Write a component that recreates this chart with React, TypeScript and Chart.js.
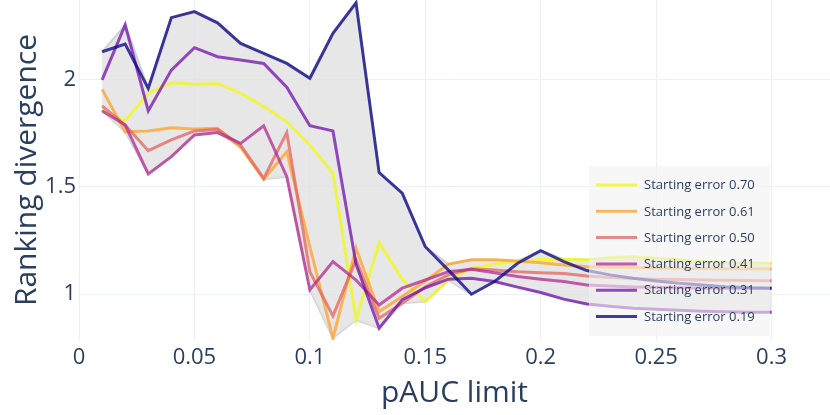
import React, { useEffect, useRef } from "react";
import { Chart, registerables } from "chart.js";

Chart.register(...registerables);

const xValues = [0.01, 0.02, 0.03, 0.04, 0.05, 0.06, 0.07, 0.08, 0.09, 0.1, 0.11, 0.12, 0.13, 0.14, 0.15, 0.16, 0.17, 0.18, 0.19, 0.2, 0.21, 0.22, 0.23, 0.24, 0.25, 0.26, 0.27, 0.28, 0.29, 0.3];

const err070 = [1.854, 1.807, 1.935, 1.984, 1.977, 1.981, 1.935, 1.873, 1.803, 1.694, 1.563, 0.88, 1.24, 1.07, 0.966, 1.066, 1.121, 1.14, 1.152, 1.162, 1.163, 1.16, 1.17, 1.174, 1.167, 1.16, 1.152, 1.148, 1.145, 1.144];
const err061 = [1.953, 1.756, 1.76, 1.775, 1.769, 1.772, 1.684, 1.535, 1.663, 1.22, 0.795, 1.214, 0.919, 0.989, 1.062, 1.14, 1.16, 1.16, 1.155, 1.146, 1.136, 1.128, 1.126, 1.124, 1.122, 1.121, 1.12, 1.119, 1.118, 1.117];
const err050 = [1.876, 1.787, 1.668, 1.718, 1.76, 1.767, 1.694, 1.539, 1.752, 1.105, 0.899, 1.16, 0.888, 0.958, 1.035, 1.09, 1.118, 1.113, 1.105, 1.1, 1.096, 1.085, 1.078, 1.073, 1.07, 1.068, 1.066, 1.065, 1.064, 1.063];
const err041 = [1.854, 1.787, 1.56, 1.64, 1.741, 1.752, 1.702, 1.784, 1.547, 1.02, 1.152, 1.066, 0.95, 1.028, 1.066, 1.105, 1.116, 1.1, 1.082, 1.07, 1.059, 1.043, 1.038, 1.034, 1.032, 1.03, 1.029, 1.028, 1.028, 1.028];
const err031 = [1.997, 2.253, 1.853, 2.043, 2.147, 2.105, 2.09, 2.074, 1.963, 1.784, 1.76, 1.14, 0.842, 0.975, 1.03, 1.07, 1.074, 1.059, 1.033, 1.008, 0.977, 0.955, 0.944, 0.935, 0.93, 0.925, 0.921, 0.918, 0.916, 0.916];
const err019 = [2.128, 2.164, 1.958, 2.287, 2.315, 2.263, 2.167, 2.121, 2.074, 2.005, 2.214, 2.356, 1.566, 1.47, 1.221, 1.112, 1.0, 1.059, 1.144, 1.203, 1.152, 1.11, 1.09, 1.074, 1.062, 1.051, 1.043, 1.035, 1.03, 1.028];

const seriesLabels = ["Starting error 0.70", "Starting error 0.61", "Starting error 0.50", "Starting error 0.41", "Starting error 0.31", "Starting error 0.19"];
const seriesValues = [err070, err061, err050, err041, err031, err019];
const seriesColors = [
  "rgba(240,249,33,0.8)",
  "rgba(252,166,54,0.8)",
  "rgba(225,100,98,0.75)",
  "rgba(177,42,144,0.75)",
  "rgba(106,0,168,0.7)",
  "rgba(13,8,135,0.78)",
];

const xTicks = [0, 0.05, 0.1, 0.15, 0.2, 0.25, 0.3];
const yTicks = [1, 1.5, 2];

const FONT = "'Open Sans', 'Noto Sans', sans-serif";
const TEXT = "#2a3f5f";

const legendPlugin = {
  id: "overlayLegend",
  afterDatasetsDraw(chart: any) {
    const ctx = chart.ctx;
    ctx.save();
    ctx.fillStyle = "rgba(242,242,242,0.6)";
    ctx.fillRect(589, 166, 181, 170);
    ctx.font = `13px ${FONT}`;
    ctx.textBaseline = "middle";
    ctx.textAlign = "left";
    seriesLabels.forEach((label, i) => {
      const y = 185 + i * 26.3;
      ctx.strokeStyle = seriesColors[i];
      ctx.lineWidth = 3;
      ctx.beginPath();
      ctx.moveTo(596, y);
      ctx.lineTo(637, y);
      ctx.stroke();
      ctx.fillStyle = TEXT;
      ctx.fillText(label, 644, y + 0.5);
    });
    ctx.restore();
  },
};

const zeroPad = (s: any) => {
  s.paddingTop = 0;
  s.paddingBottom = 0;
  s.paddingLeft = 0;
  s.paddingRight = 0;
};

export default function App() {
  const ref = useRef<HTMLCanvasElement>(null);

  useEffect(() => {
    document.body.style.margin = "0";
    const lower = xValues.map((x, i) => ({ x, y: Math.min(...seriesValues.map((s) => s[i])) }));
    const upper = xValues.map((x, i) => ({ x, y: Math.max(...seriesValues.map((s) => s[i])) }));

    const lineSets = seriesValues.map((vals, i) => ({
      label: seriesLabels[i],
      data: xValues.map((x, j) => ({ x, y: vals[j] })),
      borderColor: seriesColors[i],
      backgroundColor: seriesColors[i],
      borderWidth: 3,
      pointRadius: 0,
      tension: 0,
      fill: false,
      order: 6 - i,
    }));

    const chart = new Chart(ref.current!, {
      type: "line",
      data: {
        datasets: [
          {
            label: "band-low",
            data: lower,
            borderColor: "rgba(200,200,200,0.8)",
            borderWidth: 2,
            pointRadius: 0,
            tension: 0,
            fill: false,
            order: 100,
          },
          {
            label: "band-high",
            data: upper,
            borderColor: "rgba(200,200,200,0.8)",
            backgroundColor: "rgba(225,225,225,0.8)",
            borderWidth: 2,
            pointRadius: 0,
            tension: 0,
            fill: "-1",
            order: 99,
          },
          ...lineSets,
        ] as any,
      },
      options: {
        animation: false,
        responsive: false,
        devicePixelRatio: 1,
        layout: { padding: 0 },
        plugins: {
          legend: { display: false },
          tooltip: { enabled: false },
        },
        scales: {
          x: {
            type: "linear",
            min: 0,
            max: 0.3253,
            afterFit: (s: any) => {
              s.height = 75;
              zeroPad(s);
            },
            afterBuildTicks: (s: any) => {
              s.ticks = xTicks.map((v) => ({ value: v }));
            },
            grid: { color: "#ebf0f8", lineWidth: 1, drawTicks: false },
            border: { display: false },
            ticks: {
              padding: 5,
              color: TEXT,
              font: { family: FONT, size: 22 },
              maxRotation: 0,
              callback: (v: any) => String(+Number(v).toFixed(2)),
            },
            title: {
              display: true,
              text: "pAUC limit",
              color: TEXT,
              font: { family: FONT, size: 30 },
              padding: { top: 0, bottom: 4 },
            },
          },
          y: {
            type: "linear",
            min: 0.787,
            max: 2.369,
            afterFit: (s: any) => {
              s.width = 79;
              zeroPad(s);
            },
            afterBuildTicks: (s: any) => {
              s.ticks = yTicks.map((v) => ({ value: v }));
            },
            grid: { color: "#ebf0f8", lineWidth: 1, drawTicks: false },
            border: { display: false },
            ticks: {
              padding: 3,
              color: TEXT,
              font: { family: FONT, size: 22 },
              callback: (v: any) => String(v),
            },
            title: {
              display: true,
              text: "Ranking divergence",
              color: TEXT,
              font: { family: FONT, size: 30 },
              padding: { top: 9, bottom: 0 },
            },
          },
        },
      },
      plugins: [legendPlugin],
    });
    return () => chart.destroy();
  }, []);

  return (
    <div style={{ width: 830, height: 415 }}>
      <canvas ref={ref} width={830} height={415} style={{ display: "block" }} />
    </div>
  );
}
